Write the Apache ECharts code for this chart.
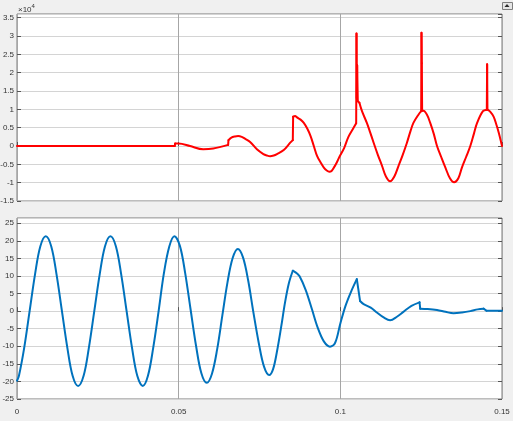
<!DOCTYPE html>
<html>
<head>
<meta charset="utf-8">
<title>waveforms</title>
<script src="https://cdn.jsdelivr.net/npm/echarts@6/dist/echarts.min.js"></script>
<style>
  html, body { margin: 0; padding: 0; background: #f0f0f0; }
  #chart { width: 513px; height: 421px; }
</style>
</head>
<body>
<div id="chart"></div>
<script>
// x axis ticks (seconds)
var xTicks = [0, 0.05, 0.1, 0.15];

// top trace (red), values in units of 1e4
var redT = [0, 0.0488, 0.0489, 0.0500, 0.0535, 0.0576, 0.0607, 0.0653, 0.0654, 0.0663, 0.0674, 0.0684, 0.0695,
  0.0705, 0.0721, 0.0742, 0.0762, 0.0773, 0.0783, 0.0794, 0.0804, 0.0825, 0.0845, 0.0853, 0.0854, 0.0860, 0.0866,
  0.0877, 0.0887, 0.0898, 0.0908, 0.0918, 0.0928, 0.0939, 0.0949, 0.0958, 0.0966, 0.0973, 0.0980, 0.0989, 0.0997,
  0.1012, 0.1025, 0.1038, 0.1049, 0.1050, 0.1051, 0.1052, 0.1054, 0.1059, 0.1067, 0.1082, 0.1092, 0.1103, 0.1116,
  0.1129, 0.1141, 0.1154, 0.1167, 0.1180, 0.1193, 0.1206, 0.1216, 0.1226, 0.1242, 0.1250, 0.1251, 0.1252, 0.1253,
  0.1257, 0.1268, 0.1278, 0.1289, 0.1299, 0.1312, 0.1325, 0.1339, 0.1352, 0.1365, 0.1376, 0.1389, 0.1402, 0.1413,
  0.1423, 0.1441, 0.1453, 0.1454, 0.1455, 0.1464, 0.1474, 0.1482, 0.1490, 0.1500];
var redV = [0, 0, 0.07, 0.07, 0.00, -0.09, -0.07, 0.03, 0.16, 0.23, 0.26, 0.27, 0.25,
  0.20, 0.11, -0.09, -0.22, -0.26, -0.28, -0.26, -0.22, -0.11, 0.09, 0.16, 0.80, 0.82, 0.78,
  0.72, 0.63, 0.47, 0.27, 0.00, -0.27, -0.45, -0.59, -0.67, -0.70, -0.68, -0.59, -0.45, -0.30,
  -0.05, 0.25, 0.45, 0.62, 3.07, 1.30, 2.20, 1.22, 1.18, 0.95, 0.63, 0.38, 0.09, -0.24,
  -0.54, -0.83, -0.96, -0.83, -0.54, -0.24, 0.09, 0.38, 0.63, 0.86, 0.95, 3.09, 2.26, 0.96,
  0.96, 0.85, 0.63, 0.33, 0.00, -0.30, -0.59, -0.88, -0.99, -0.88, -0.59, -0.30, 0.00, 0.33,
  0.63, 0.95, 0.99, 2.23, 0.99, 0.93, 0.80, 0.60, 0.36, 0.00];
// times where the red trace has a sharp corner (steps and spikes)
var redCorners = [0.0488, 0.0489, 0.0653, 0.0654, 0.0853, 0.0854, 0.1049, 0.1050, 0.1051, 0.1052, 0.1054,
  0.1059, 0.1250, 0.1251, 0.1252, 0.1253, 0.1453, 0.1454, 0.1455];

// bottom trace (blue)
var blueT = [0, 0.0006, 0.0022, 0.0039, 0.0056, 0.0072, 0.0089, 0.0106, 0.0122, 0.0139, 0.0156, 0.0172, 0.0189,
  0.0206, 0.0222, 0.0239, 0.0256, 0.0272, 0.0289, 0.0306, 0.0322, 0.0339, 0.0356, 0.0372, 0.0389, 0.0405, 0.0421,
  0.0438, 0.0454, 0.0471, 0.0487, 0.0504, 0.0520, 0.0537, 0.0554, 0.0570, 0.0587, 0.0603, 0.0619, 0.0635, 0.0651,
  0.0667, 0.0683, 0.0699, 0.0715, 0.0731, 0.0748, 0.0764, 0.0780, 0.0792, 0.0804, 0.0817, 0.0829, 0.0841, 0.0853,
  0.0857, 0.0865, 0.0874, 0.0893, 0.0912, 0.0930, 0.0949, 0.0968, 0.0984, 0.1000, 0.1016, 0.1033, 0.1051, 0.1061,
  0.1072, 0.1094, 0.1113, 0.1134, 0.1154, 0.1175, 0.1195, 0.1220, 0.1245, 0.1247, 0.1270, 0.1299, 0.1325, 0.1350,
  0.1376, 0.1402, 0.1425, 0.1443, 0.1452, 0.1500];
var blueV = [-19.8, -18.4, -10.6, 0, 10.6, 18.4, 21.3, 18.4, 10.6, 0, -10.6, -18.4, -21.3,
  -18.4, -10.6, 0, 10.6, 18.4, 21.3, 18.4, 10.6, 0, -10.6, -18.4, -21.3, -18.4, -10.6,
  0, 10.6, 18.4, 21.3, 18.5, 10.9, 0.4, -10.0, -17.6, -20.4, -17.8, -10.9, -1.3, 8.2,
  15.1, 17.7, 15.3, 8.7, -0.3, -9.2, -15.8, -18.2, -16.5, -11.5, -4.5, 2.5, 8.0, 11.5,
  11.3, 10.8, 9.9, 6.0, 0.6, -4.7, -8.6, -10.1, -9.0, -3.5, 1.5, 5.5, 9.1, 2.9,
  2.0, 1.0, -0.4, -1.8, -2.6, -1.6, -0.2, 1.5, 2.5, 0.7, 0.6, 0.3, -0.2, -0.6,
  -0.4, 0, 0.5, 0.7, 0.1, 0.1];
var blueCorners = [0.0853, 0.1051, 0.1061, 0.1245, 0.1247, 0.1443, 0.1452];

// split a trace into pieces at its corners so each piece can be smoothed on its own
function pieces(ts, vs, corners) {
  var out = [], cur = [];
  ts.forEach(function (t, i) {
    cur.push([t, vs[i]]);
    if (corners.indexOf(t) >= 0 && cur.length > 1) {
      out.push(cur);
      cur = [[t, vs[i]]];
    }
  });
  if (cur.length > 1) out.push(cur);
  return out;
}

var chart = echarts.init(document.getElementById('chart'));

var fontFam = 'Liberation Sans, Arial, sans-serif';
var labelStyle = { color: '#333333', fontSize: 8, fontFamily: fontFam };

function xAxisFor(gridIndex, showLabels) {
  return {
    type: 'value', gridIndex: gridIndex, min: 0, max: 0.15, interval: 0.05,
    axisLine: { show: false },
    axisTick: { show: true, inside: true, length: 4, lineStyle: { color: '#555' } },
    axisLabel: Object.assign({ show: showLabels, margin: 9, formatter: function (v) { return String(+v.toFixed(2)); } }, labelStyle),
    splitLine: { show: true, lineStyle: { color: '#a6a6a6', width: 1 } }
  };
}

function yAxisFor(gridIndex, min, max, interval, right) {
  return {
    type: 'value', gridIndex: gridIndex, min: min, max: max, interval: interval,
    position: right ? 'right' : 'left',
    axisLine: { show: false },
    axisTick: { show: true, inside: true, length: 4, lineStyle: { color: '#555' } },
    axisLabel: Object.assign({ show: !right, margin: 3, showMaxLabel: false }, labelStyle),
    splitLine: { show: !right, lineStyle: { color: '#d4d4d4', width: 1 } }
  };
}

function traceSeries(parts, axisIdx, color) {
  return parts.map(function (p) {
    return {
      type: 'line', xAxisIndex: axisIdx, yAxisIndex: axisIdx, data: p,
      showSymbol: false, smooth: p.length > 2 ? 0.35 : false,
      lineStyle: { color: color, width: 2, cap: 'round', join: 'round' }
    };
  });
}

var option = {
  backgroundColor: '#f0f0f0',
  animation: false,
  grid: [
    { left: 17, right: 11, top: 14, height: 187, containLabel: false, outerBoundsMode: 'none',
      show: true, backgroundColor: '#ffffff', borderColor: '#7a7a7a', borderWidth: 1 },
    { left: 17, right: 11, top: 218, height: 181, containLabel: false, outerBoundsMode: 'none',
      show: true, backgroundColor: '#ffffff', borderColor: '#7a7a7a', borderWidth: 1 }
  ],
  xAxis: [xAxisFor(0, false), xAxisFor(1, true)],
  yAxis: [
    yAxisFor(0, -1.5, 3.6, 0.5, false),
    yAxisFor(1, -25, 26.5, 5, false),
    yAxisFor(0, -1.5, 3.6, 0.5, true),
    yAxisFor(1, -25, 26.5, 5, true)
  ],
  graphic: [
    {
      type: 'text', left: 18, top: 3,
      style: {
        text: '{a|\u00d710}{b|4}',
        rich: {
          a: { fontSize: 8, fill: '#333333', fontFamily: fontFam, verticalAlign: 'bottom' },
          b: { fontSize: 6, fill: '#333333', fontFamily: fontFam, verticalAlign: 'top', padding: [0, 0, 5, 0] }
        }
      }
    },
    { type: 'rect', left: 502, top: 2, shape: { width: 10, height: 7 }, style: { fill: '#e6e6e6', stroke: '#7f7f7f', lineWidth: 1 } },
    { type: 'polygon', shape: { points: [[504.5, 7], [509.5, 7], [507, 4]] }, style: { fill: '#2a2a2a' } }
  ],
  series: traceSeries(pieces(redT, redV, redCorners), 0, '#ff0000')
    .concat(traceSeries(pieces(blueT, blueV, blueCorners), 1, '#0072bd'))
};
chart.setOption(option);
</script>
</body>
</html>
